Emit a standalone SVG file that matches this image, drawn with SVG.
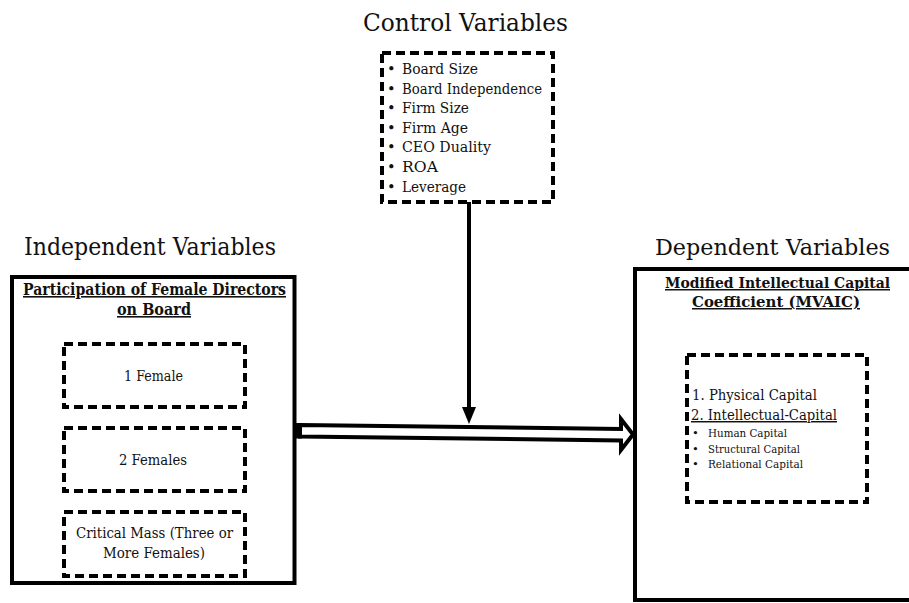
<svg xmlns="http://www.w3.org/2000/svg" width="909" height="603" viewBox="0 0 909 603">
<style>
text{font-family:'DejaVu Serif','Liberation Serif',serif;fill:#111}
.title{font-size:25px}
.hd{font-size:16px;font-weight:bold;text-decoration:underline}
.item{font-size:14.6px}
.small{font-size:11.6px}
.solid{fill:none;stroke:#000;stroke-width:4}
.dash{fill:none;stroke:#000;stroke-width:4;stroke-dasharray:9 5}
</style>
<rect width="909" height="603" fill="#fff"/>
<g id="control">
<text class="title" x="465.5" y="31" text-anchor="middle" textLength="205" lengthAdjust="spacingAndGlyphs">Control Variables</text>
<rect class="dash" x="382" y="53" width="171" height="149"/>
<g class="item">
<text x="387" y="74">•</text><text x="402" y="74" textLength="76" lengthAdjust="spacingAndGlyphs">Board Size</text>
<text x="387" y="93.6">•</text><text x="402" y="93.6" textLength="140" lengthAdjust="spacingAndGlyphs">Board Independence</text>
<text x="387" y="113.2">•</text><text x="402" y="113.2" textLength="67" lengthAdjust="spacingAndGlyphs">Firm Size</text>
<text x="387" y="132.8">•</text><text x="402" y="132.8" textLength="66" lengthAdjust="spacingAndGlyphs">Firm Age</text>
<text x="387" y="152.4">•</text><text x="402" y="152.4" textLength="89" lengthAdjust="spacingAndGlyphs">CEO Duality</text>
<text x="387" y="172">•</text><text x="402" y="172" textLength="36" lengthAdjust="spacingAndGlyphs">ROA</text>
<text x="387" y="191.6">•</text><text x="402" y="191.6" textLength="64" lengthAdjust="spacingAndGlyphs">Leverage</text>
</g>
</g>
<g id="independent">
<text class="title" x="150" y="255" text-anchor="middle" textLength="252" lengthAdjust="spacingAndGlyphs">Independent Variables</text>
<rect class="solid" x="12" y="277" width="282.5" height="306"/>
<text class="hd" x="154.5" y="295" text-anchor="middle" textLength="263" lengthAdjust="spacingAndGlyphs">Participation of Female Directors</text>
<text class="hd" x="154" y="315" text-anchor="middle" textLength="74" lengthAdjust="spacingAndGlyphs">on Board</text>
<g id="female1"><rect class="dash" x="64" y="344" width="181" height="63"/>
<text class="item" x="153.5" y="381" text-anchor="middle" textLength="59" lengthAdjust="spacingAndGlyphs">1 Female</text></g>
<g id="female2"><rect class="dash" x="64" y="428" width="181" height="63"/>
<text class="item" x="153" y="465" text-anchor="middle" textLength="68" lengthAdjust="spacingAndGlyphs">2 Females</text></g>
<g id="female3"><rect class="dash" x="64" y="512" width="181" height="64"/>
<text class="item" x="154.5" y="538" text-anchor="middle" textLength="157" lengthAdjust="spacingAndGlyphs">Critical Mass (Three or</text>
<text class="item" x="154" y="558" text-anchor="middle" textLength="102" lengthAdjust="spacingAndGlyphs">More Females)</text></g>
</g>
<g id="dependent">
<text class="title" x="772.5" y="255" text-anchor="middle" style="font-size:23px" textLength="235" lengthAdjust="spacingAndGlyphs">Dependent Variables</text>
<rect class="solid" x="635" y="269" width="290" height="331"/>
<text class="hd" x="777.5" y="288" text-anchor="middle" style="font-size:15px" textLength="225" lengthAdjust="spacingAndGlyphs">Modified Intellectual Capital</text>
<text class="hd" x="776" y="307" text-anchor="middle" style="font-size:15px" textLength="168" lengthAdjust="spacingAndGlyphs">Coefficient (MVAIC)</text>
<g id="mvaic"><rect class="dash" x="687" y="355" width="180" height="147"/>
<text class="item" x="692" y="400" textLength="125" lengthAdjust="spacingAndGlyphs">1. Physical Capital</text>
<text class="item" x="691" y="420" text-decoration="underline" textLength="146" lengthAdjust="spacingAndGlyphs">2. Intellectual-Capital</text>
<g class="small">
<text x="692" y="437">•</text><text x="708" y="437" textLength="79" lengthAdjust="spacingAndGlyphs">Human Capital</text>
<text x="692" y="452.5">•</text><text x="708" y="452.5" textLength="92" lengthAdjust="spacingAndGlyphs">Structural Capital</text>
<text x="692" y="468">•</text><text x="708" y="468" textLength="95" lengthAdjust="spacingAndGlyphs">Relational Capital</text>
</g></g>
</g>
<g id="connectors">
<line x1="469" y1="202" x2="469" y2="409" stroke="#000" stroke-width="4"/>
<polygon points="462,407 476,407 469,424" fill="#000"/>
<polygon points="300,425 621,429 621,419 633,434.5 621,450 621,440.5 300,436.5" fill="#fff" stroke="#000" stroke-width="4" stroke-linejoin="miter"/>
<rect x="296" y="423" width="6" height="15.5" fill="#000"/>
</g>
</svg>
